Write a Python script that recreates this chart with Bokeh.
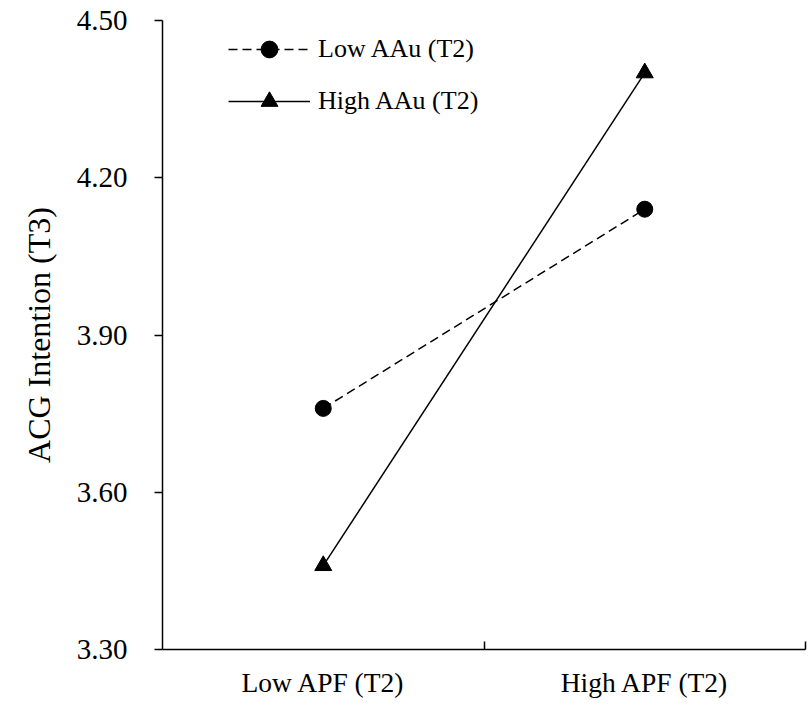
from bokeh.plotting import figure
from bokeh.models import FixedTicker, LinearAxis, Range1d, Legend, LegendItem, Title
from bokeh.embed import file_html
from bokeh.resources import INLINE

# Data
categories = ["Low APF (T2)", "High APF (T2)"]
cat_pos = [0.5, 1.5]
low_aau = [3.76, 4.14]
high_aau = [3.46, 4.40]
y_ticks = [3.30, 3.60, 3.90, 4.20, 4.50]
series_names = ["Low AAu (T2)", "High AAu (T2)"]
y_title = "ACG Intention (T3)"

FONT = "Liberation Serif"

p = figure(width=808, height=700, output_backend="svg", toolbar_location=None,
           x_range=Range1d(0, 2), y_range=Range1d(3.30, 4.50),
           x_axis_location=None, y_axis_location=None,
           min_border_left=162, min_border_right=3, min_border_top=20, min_border_bottom=49)
p.outline_line_color = None
p.xgrid.visible = False
p.ygrid.visible = False

# x axis: labels at category centres, ticks at boundaries
xaxis = LinearAxis(ticker=FixedTicker(ticks=cat_pos, minor_ticks=[1.0, 2.0]))
xaxis.major_label_overrides = {cat_pos[i]: categories[i] for i in range(len(categories))}
xaxis.major_tick_in = 0
xaxis.major_tick_out = 0
xaxis.minor_tick_in = 8
xaxis.minor_tick_out = 0
xaxis.minor_tick_line_color = "black"
xaxis.minor_tick_line_width = 1.5
xaxis.axis_line_color = "black"
xaxis.axis_line_width = 1.5
xaxis.major_label_text_font = FONT
xaxis.major_label_text_font_size = "27.5px"
xaxis.major_label_text_color = "black"
xaxis.major_label_standoff = 17
p.add_layout(xaxis, "below")

yaxis = LinearAxis(ticker=FixedTicker(ticks=y_ticks))
yaxis.major_label_overrides = {t: f"{t:.2f}" for t in y_ticks}
yaxis.major_tick_in = 0
yaxis.major_tick_out = 8
yaxis.major_tick_line_color = "black"
yaxis.major_tick_line_width = 1.5
yaxis.minor_tick_line_color = None
yaxis.axis_line_color = "black"
yaxis.axis_line_width = 1.5
yaxis.major_label_text_font = FONT
yaxis.major_label_text_font_size = "29px"
yaxis.major_label_text_color = "black"
yaxis.major_label_standoff = 27
p.add_layout(yaxis, "left")

ttl = Title(text=y_title, align="center", offset=11, text_font=FONT,
            text_font_size="32px", text_font_style="normal", text_color="black",
            standoff=34)
p.add_layout(ttl, "left")

l1 = p.line(cat_pos, low_aau, line_color="black", line_width=1.5, line_dash="9 5")
m1 = p.scatter(cat_pos, low_aau, marker="circle", size=16, fill_color="black", line_color="black")
l2 = p.line(cat_pos, high_aau, line_color="black", line_width=1.5)
m2 = p.scatter(cat_pos, high_aau, marker="triangle", size=17, fill_color="black", line_color="black")

legend = Legend(items=[LegendItem(label=series_names[0], renderers=[l1, m1]),
                       LegendItem(label=series_names[1], renderers=[l2, m2])],
                location=(66, 527))
legend.glyph_width = 82
legend.glyph_height = 42
legend.label_text_font = FONT
legend.label_text_font_size = "26px"
legend.label_text_color = "black"
legend.spacing = 10
legend.border_line_color = None
legend.background_fill_alpha = 0
legend.label_standoff = 8
p.add_layout(legend, "center")

open("out.html", "w").write(file_html(p, INLINE))
